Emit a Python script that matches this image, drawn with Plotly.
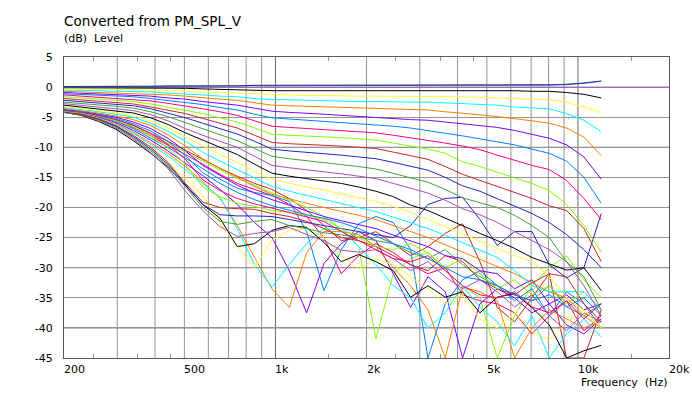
import math
import plotly.graph_objects as go

# ---------------- data ----------------
FREQ = [200, 228, 260, 297, 339, 387, 441, 504, 575, 656, 748, 853, 974, 1111, 1268, 1447,
        1651, 1883, 2149, 2452, 2798, 3193, 3643, 4156, 4743, 5411, 6175, 7045, 8039, 9172, 10466, 11942]

REF_FREQ = [200, 20000]
REF_LEVEL = [0, 0]

BLUE_0 = [0.1,0.1,0.1,0.1,0.1,0.2,0.2,0.2, 0.2,0.2,0.2,0.3,0.3,0.3,0.3,0.3, 0.3,0.3,0.3,0.3,0.3,0.3,0.3,0.3, 0.3,0.3,0.3,0.3,0.3,0.4,0.7,1.0]
GREEN_0 = [0.0,0.0,0.1,0.1,0.1,0.1,0.2,0.2, 0.2,0.2,0.2,0.2,0.2,0.2,0.2,0.2, 0.2,0.2,0.2,0.2,0.2,0.2,0.2,0.2, 0.2,0.2,0.2,0.2,0.3,0.5,0.6,1.0]

BLACK_A = [-0.1,-0.1,-0.1,-0.1,-0.1,-0.2,-0.2,-0.2, -0.3,-0.4,-0.4,-0.5,-0.6,-0.6,-0.6,-0.6, -0.5,-0.5,-0.5,-0.6,-0.6,-0.6,-0.6,-0.6, -0.6,-0.6,-0.6,-0.7,-0.7,-0.9,-1.2,-1.8]
YELLOW_A = [-0.3,-0.3,-0.3,-0.4,-0.4,-0.5,-0.6,-0.7, -0.8,-0.9,-1.0,-1.2,-1.3,-1.3,-1.4,-1.4, -1.5,-1.5,-1.5,-1.5,-1.5,-1.5,-1.6,-1.6, -1.7,-1.8,-1.9,-2.0,-2.1,-2.5,-3.3,-4.3]
CYAN_A = [-0.5,-0.5,-0.6,-0.7,-0.7,-0.8,-1.0,-1.1, -1.3,-1.5,-1.6,-1.9,-2.1,-2.1,-2.2,-2.2, -2.3,-2.4,-2.4,-2.5,-2.5,-2.5,-2.6,-2.7, -2.8,-3.0,-3.3,-3.4,-3.6,-4.4,-5.5,-7.4]
ORANGE_A = [-0.7,-0.8,-0.9,-0.9,-1.0,-1.2,-1.3,-1.5, -1.8,-2.0,-2.2,-2.6,-3.0,-3.1,-3.2,-3.3, -3.4,-3.5,-3.5,-3.6,-3.7,-3.8,-4.1,-4.3, -4.6,-4.9,-5.2,-5.6,-6.0,-6.8,-8.3,-11.4]
VIOLET_A = [-0.9,-1.0,-1.1,-1.2,-1.3,-1.5,-1.8,-2.0, -2.4,-2.7,-3.0,-3.5,-4.0,-4.2,-4.3,-4.5, -4.7,-4.9,-5.0,-5.2,-5.4,-5.5,-5.8,-6.0, -6.3,-6.7,-7.2,-7.8,-8.5,-9.6,-11.6,-15.3]
AZURE_A = [-1.1,-1.2,-1.3,-1.5,-1.6,-1.9,-2.2,-2.5, -2.9,-3.4,-3.8,-4.5,-5.1,-5.3,-5.5,-5.6, -5.8,-6.0,-6.2,-6.5,-6.8,-7.2,-7.7,-8.1, -8.6,-9.1,-9.6,-10.3,-11.0,-12.3,-15.0,-19.3]
PINK_A = [-1.3,-1.5,-1.6,-1.8,-2.0,-2.3,-2.7,-3.1, -3.6,-4.1,-4.7,-5.6,-6.5,-6.7,-6.9,-7.0, -7.2,-7.4,-7.6,-8.0,-8.4,-8.8,-9.3,-9.8, -10.4,-11.3,-12.2,-13.0,-13.7,-15.5,-18.5,-22.0]
LIME_A = [-1.6,-1.8,-2.0,-2.2,-2.4,-2.8,-3.3,-3.8, -4.4,-5.1,-5.8,-6.8,-7.8,-8.0,-8.1,-8.2, -8.4,-8.6,-8.8,-9.3,-9.8,-10.3,-11.0,-12.4, -13.2,-14.1,-15.0,-16.0,-17.2,-19.5,-23.0,-27.4]
RED_A = [-1.9,-2.1,-2.4,-2.6,-2.8,-3.3,-3.8,-4.4, -5.2,-6.0,-6.8,-8.0,-9.2,-9.4,-9.5,-9.6, -9.8,-10.0,-10.2,-10.8,-11.4,-12.0,-13.2,-14.5, -15.5,-16.5,-17.5,-18.5,-19.7,-20.5,-23.5,-29.0]

BLUE_B = [-2.2,-2.4,-2.6,-2.8,-3.1,-3.6,-4.3,-5.1, -6.0,-6.9,-7.8,-9.0,-10.3,-10.6,-10.8,-11.0, -11.3,-11.6,-11.9,-12.5,-13.1,-13.8,-15.0,-16.4, -17.3,-18.5,-19.7,-21.0,-22.5,-24.5,-27.0,-30.0]
GREEN_B = [-2.5,-2.7,-3.0,-3.2,-3.5,-4.1,-4.9,-5.9, -6.9,-7.9,-8.9,-10.2,-11.5,-11.9,-12.2,-12.5, -12.9,-13.2,-13.6,-14.3,-15.0,-15.8,-17.0,-18.4, -19.2,-20.0,-21.3,-23.0,-25.0,-29.0,-31.5,-37.0]
PURPLE_B = [-2.75,-3.0,-3.3,-3.6,-3.9,-4.6,-5.6,-6.9, -8.0,-9.0,-10.0,-11.5,-13.0,-13.4,-13.7,-14.0, -14.4,-14.8,-15.2,-16.0,-16.8,-17.6,-18.8,-20.2, -21.2,-22.5,-24.0,-25.5,-27.0,-29.0,-33.0,-38.0]
BLACK_B = [-3.0,-3.3,-3.6,-3.9,-4.3,-5.1,-6.2,-7.6, -8.8,-10.0,-11.2,-12.8,-14.3,-14.8,-15.2,-15.5, -16.0,-16.6,-17.3,-18.2,-19.6,-20.5,-21.8,-23.0, -24.3,-25.5,-26.8,-28.3,-29.4,-30.4,-30.0,-33.8]
YELLOW_B = [-3.2,-3.5,-3.9,-4.3,-4.7,-5.6,-6.8,-8.3, -9.8,-11.2,-12.5,-14.0,-15.3,-16.0,-16.6,-17.1, -17.7,-18.3,-19.0,-19.8,-20.8,-22.0,-23.2,-24.4, -25.5,-26.8,-28.0,-29.0,-31.5,-35.0,-37.0,-40.0]
CYAN_B = [-3.4,-3.7,-4.1,-4.5,-5.0,-6.0,-7.3,-9.0, -10.8,-12.3,-13.7,-15.2,-16.5,-17.3,-18.0,-18.7, -19.4,-20.0,-20.7,-21.6,-22.5,-23.5,-24.6,-25.8, -27.0,-28.3,-30.5,-33.0,-34.0,-34.0,-34.0,-37.0]
ORANGE_B = [-3.55,-3.9,-4.3,-4.8,-5.4,-6.4,-7.9,-9.8, -11.9,-13.5,-15.0,-16.5,-17.8,-18.6,-19.3,-20.0, -20.6,-21.3,-22.0,-23.0,-24.0,-25.0,-26.2,-27.4, -28.5,-29.8,-31.0,-32.5,-34.0,-35.0,-38.0,-40.0]
VIOLET_B = [-3.7,-4.0,-4.5,-5.0,-5.8,-6.9,-8.5,-10.6, -13.0,-14.7,-16.3,-17.6,-18.7,-19.6,-20.6,-21.5, -22.2,-22.8,-23.5,-24.6,-25.6,-26.5,-28.0,-28.5, -30.5,-31.0,-33.5,-32.0,-36.0,-34.5,-37.0,-36.0]
AZURE_B = [-3.8,-4.1,-4.6,-5.2,-6.1,-7.3,-9.0,-11.4, -14.2,-16.0,-17.5,-18.7,-19.7,-20.5,-21.2,-21.8, -22.5,-23.5,-24.8,-26.0,-27.0,-28.5,-30.0,-31.5, -32.0,-33.0,-34.5,-35.5,-34.5,-36.5,-35.0,-38.0]
PINK_B = [-3.9,-4.2,-4.7,-5.4,-6.3,-7.7,-9.5,-12.0, -15.4,-17.2,-18.5,-19.4,-20.1,-20.8,-21.5,-22.3, -24.0,-25.5,-27.0,-28.5,-29.0,-28.0,-30.5,-33.0, -34.5,-35.0,-34.0,-36.5,-37.5,-35.5,-38.5,-36.0]
LIME_B = [-4.0,-4.3,-4.8,-5.6,-6.6,-8.1,-10.1,-12.8, -16.6,-18.2,-19.3,-19.8,-20.5,-20.8,-21.3,-22.0, -23.5,-25.0,-26.5,-27.0,-26.0,-27.5,-30.0,-28.5, -31.0,-33.5,-32.0,-34.5,-33.0,-36.0,-34.0,-37.0]
RED_B = [-4.05,-4.5,-5.3,-6.4,-8.0,-10.0,-12.5,-16.0, -19.1,-20.0,-20.2,-20.3,-21.0,-21.5,-22.3,-23.5, -25.0,-25.5,-26.5,-28.0,-29.5,-30.5,-28.0,-29.0, -32.0,-33.5,-34.5,-32.5,-31.0,-31.5,-36.0,-39.0]

BLUE_C = [-4.1,-4.55,-5.3,-6.5,-8.2,-10.3,-12.8,-16.2, -19.5,-21.2,-21.4,-21.4,-21.5,-22.0,-22.5,-23.0, -23.5,-24.0,-24.5,-25.0,-23.0,-19.5,-18.5,-18.3, -22.0,-26.3,-24.0,-24.0,-29.5,-31.7,-30.0,-21.0]
GREEN_C = [-4.15,-4.6,-5.4,-6.6,-8.4,-10.6,-13.1,-16.6, -20.0,-22.3,-22.8,-22.3,-22.0,-23.0,-23.5,-24.2, -24.6,-24.9,-25.5,-26.0,-27.5,-28.5,-27.0,-29.5, -31.5,-33.0,-34.5,-35.5,-33.0,-36.5,-38.0,-36.0]
PURPLE_C = [-4.2,-4.65,-5.5,-6.8,-8.6,-10.9,-13.5,-17.3, -20.5,-23.2,-24.8,-24.3,-24.0,-23.3,-24.5,-25.5, -27.1,-27.4,-27.0,-28.5,-30.5,-29.0,-31.5,-33.5, -32.0,-34.0,-36.5,-34.5,-38.0,-40.5,-37.5,-39.0]
BLACK_C = [-4.2,-4.7,-5.7,-7.0,-8.9,-11.0,-13.3,-16.3, -19.5,-21.8,-26.5,-26.0,-23.8,-23.0,-23.3,-25.8, -29.0,-27.8,-29.0,-30.5,-34.9,-33.0,-34.9,-34.0, -37.5,-34.9,-34.3,-36.6,-39.5,-45.0,-43.8,-42.9]
YELLOW_C = [-4.15,-4.6,-5.4,-6.5,-8.2,-10.2,-12.4,-15.3, -18.0,-22.5,-26.5,-30.0,-25.5,-23.8,-23.5,-25.0, -28.0,-30.2,-28.5,-29.5,-31.5,-33.5,-36.0,-34.5, -38.5,-40.0,-37.5,-40.5,-42.0,-39.0,-37.0,-40.0]
CYAN_C = [-4.1,-4.5,-5.2,-6.2,-7.7,-9.5,-11.4,-13.7, -16.0,-18.3,-23.5,-29.5,-33.2,-29.5,-26.0,-23.5, -23.8,-26.5,-29.5,-33.0,-35.0,-40.0,-37.5,-33.0, -36.5,-39.0,-43.0,-38.0,-45.0,-41.0,-38.5,-41.5]
ORANGE_C = [-4.05,-4.45,-5.1,-6.1,-7.5,-9.2,-11.0,-13.2, -15.7,-18.5,-23.0,-28.3,-33.5,-36.6,-27.5,-24.0, -24.0,-24.5,-26.5,-30.0,-33.0,-37.0,-45.0,-33.2, -34.0,-35.5,-45.0,-40.0,-37.0,-38.5,-40.0,-39.0]
VIOLET_C = [-4.0,-4.4,-5.0,-5.9,-7.2,-8.8,-10.6,-12.6, -14.7,-17.0,-19.5,-22.5,-25.0,-30.5,-37.5,-29.3, -26.0,-24.0,-25.5,-31.0,-36.6,-31.5,-34.0,-45.0, -36.0,-33.5,-35.0,-37.5,-36.0,-39.5,-41.0,-38.5]
AZURE_C = [-3.95,-4.35,-4.9,-5.7,-6.9,-8.4,-10.0,-11.8, -13.5,-15.3,-16.8,-17.5,-18.0,-19.0,-24.0,-33.8, -27.0,-22.7,-21.5,-22.5,-27.0,-45.0,-36.0,-32.0, -30.5,-33.0,-35.5,-33.5,-38.0,-34.0,-36.0,-40.0]
PINK_C = [-3.9,-4.3,-4.8,-5.6,-6.7,-8.1,-9.6,-11.2, -12.8,-14.5,-16.0,-17.0,-18.0,-19.5,-21.5,-25.0, -31.0,-28.0,-26.0,-27.5,-29.5,-31.0,-30.0,-34.5, -35.5,-36.0,-37.5,-41.0,-38.0,-35.5,-40.5,-38.0]
LIME_C = [-3.85,-4.25,-4.75,-5.5,-6.6,-7.9,-9.3,-10.8, -12.3,-13.8,-15.2,-16.3,-17.5,-18.8,-20.0,-21.5, -23.5,-26.5,-41.8,-31.0,-28.5,-27.5,-30.5,-33.0, -35.0,-45.0,-38.0,-33.0,-30.0,-28.0,-32.0,-35.0]
RED_C = [-3.8,-4.2,-4.7,-5.4,-6.4,-7.7,-9.0,-10.5, -12.0,-13.5,-14.8,-16.0,-17.0,-18.5,-20.5,-23.0, -25.5,-25.0,-24.0,-26.0,-28.0,-26.5,-24.3,-22.7, -29.0,-36.6,-39.0,-35.0,-31.0,-45.0,-45.0,-37.0]

Y_TICKS = [5, 0, -5, -10, -15, -20, -25, -30, -35, -40, -45]
X_LABEL_VALUES = [200, 500, 1000, 2000, 5000, 10000, 20000]
X_LABEL_TEXT = ["200", "500", "1k", "2k", "5k", "10k", "20k"]
X_SMALL_TICKS = [250, 350, 450, 1500, 2500, 3500, 4500, 15000]
X_GRID_LIGHT = [300, 400, 500, 600, 700, 800, 900, 2000, 3000, 4000, 5000, 6000, 7000, 8000, 9000]
X_GRID_DARK = [1000, 10000]
Y_GRID_DARK = [-10, -20, -30, -40]

# ---------------- styles ----------------
C_BLUE, C_GREEN, C_PURPLE = "#2424c8", "#44a044", "#a452b4"
C_BLACK, C_YELLOW, C_CYAN, C_ORANGE = "#000000", "#ffff30", "#00ffff", "#ff8000"
C_VIOLET, C_AZURE, C_PINK, C_LIME, C_RED = "#8000ff", "#0080ff", "#ff0080", "#80ff00", "#cc2424"

SERIES = [
    (BLUE_0, C_BLUE), (GREEN_0, C_GREEN),
    (BLACK_A, C_BLACK), (YELLOW_A, C_YELLOW), (CYAN_A, C_CYAN), (ORANGE_A, C_ORANGE),
    (VIOLET_A, C_VIOLET), (AZURE_A, C_AZURE), (PINK_A, C_PINK), (LIME_A, C_LIME), (RED_A, C_RED),
    (BLUE_B, C_BLUE), (GREEN_B, C_GREEN), (PURPLE_B, C_PURPLE), (BLACK_B, C_BLACK),
    (YELLOW_B, C_YELLOW), (CYAN_B, C_CYAN), (ORANGE_B, C_ORANGE), (VIOLET_B, C_VIOLET),
    (AZURE_B, C_AZURE), (PINK_B, C_PINK), (LIME_B, C_LIME), (RED_B, C_RED),
    (BLUE_C, C_BLUE), (GREEN_C, C_GREEN), (PURPLE_C, C_PURPLE), (BLACK_C, C_BLACK),
    (YELLOW_C, C_YELLOW), (CYAN_C, C_CYAN), (ORANGE_C, C_ORANGE), (VIOLET_C, C_VIOLET),
    (AZURE_C, C_AZURE), (PINK_C, C_PINK), (LIME_C, C_LIME), (RED_C, C_RED),
]

for vals, _ in SERIES:
    assert len(vals) == len(FREQ), len(vals)

FONT = "DejaVu Sans, Verdana, sans-serif"
GRID_LIGHT = "#959595"
GRID_DARK = "#6a6a6a"
FRAME = "#5a5a5a"

fig = go.Figure()

fig.add_trace(go.Scatter(x=REF_FREQ, y=REF_LEVEL, mode="lines",
                         line=dict(color=C_PURPLE, width=1), hoverinfo="skip", showlegend=False))

for vals, col in reversed(SERIES):
    fig.add_trace(go.Scatter(x=FREQ, y=vals, mode="lines",
                             line=dict(color=col, width=1), showlegend=False))

shapes = []
for f in X_GRID_LIGHT:
    shapes.append(dict(type="line", xref="x", yref="paper", x0=f, x1=f, y0=0, y1=1,
                       line=dict(color=GRID_LIGHT, width=1), layer="below"))
for f in X_GRID_DARK:
    shapes.append(dict(type="line", xref="x", yref="paper", x0=f, x1=f, y0=0, y1=1,
                       line=dict(color=GRID_DARK, width=1), layer="below"))
for v in Y_GRID_DARK:
    shapes.append(dict(type="line", xref="paper", yref="y", x0=0, x1=1, y0=v, y1=v,
                       line=dict(color=GRID_DARK, width=1), layer="below"))

annotations = []
for v, t in zip(X_LABEL_VALUES, X_LABEL_TEXT):
    annotations.append(dict(x=math.log10(v), xref="x", y=0, yref="paper", text=t,
                            xanchor="left", yanchor="top", yshift=-3, xshift=-2,
                            showarrow=False, font=dict(family=FONT, size=11, color="black")))
annotations.append(dict(x=0, xref="paper", y=1.118, yref="paper", text="Converted from PM_SPL_V",
                        xanchor="left", yanchor="middle", showarrow=False, xshift=-2,
                        font=dict(family=FONT, size=13.5, color="black")))
annotations.append(dict(x=0, xref="paper", y=1.06, yref="paper", text="(dB)\u00a0 Level",
                        xanchor="left", yanchor="middle", showarrow=False, xshift=-2,
                        font=dict(family=FONT, size=11, color="black")))
annotations.append(dict(x=1, xref="paper", y=-0.08, yref="paper", text="Frequency\u00a0 (Hz)",
                        xanchor="right", yanchor="middle", showarrow=False,
                        font=dict(family=FONT, size=11, color="black")))

fig.update_layout(
    width=692, height=393,
    margin=dict(l=64, r=23, t=57, b=35, autoexpand=False),
    paper_bgcolor="white", plot_bgcolor="white",
    showlegend=False,
    shapes=shapes, annotations=annotations,
    xaxis=dict(type="log", range=[math.log10(200), math.log10(20000)],
               showgrid=False, zeroline=False, automargin=False,
               tickmode="array", tickvals=X_SMALL_TICKS, ticks="inside", ticklen=4,
               tickcolor=GRID_LIGHT, showticklabels=False,
               showline=True, linecolor=FRAME, linewidth=1, mirror="allticks"),
    yaxis=dict(range=[-45, 5], tickmode="array", tickvals=Y_TICKS,
               ticktext=[str(v) for v in Y_TICKS], automargin=False,
               showgrid=True, gridcolor=GRID_LIGHT, gridwidth=1, zeroline=False,
               ticks="outside", ticklen=8, tickcolor="rgba(0,0,0,0)",
               tickfont=dict(family=FONT, size=11, color="black"),
               showline=True, linecolor=FRAME, linewidth=1, mirror=True),
)

# remove the browser's default page margin so the 692x393 figure fills the window exactly
fig.write_html("out.html",
               config={"displayModeBar": False},
               post_script="document.body.style.margin='0';document.body.style.overflow='hidden';")
